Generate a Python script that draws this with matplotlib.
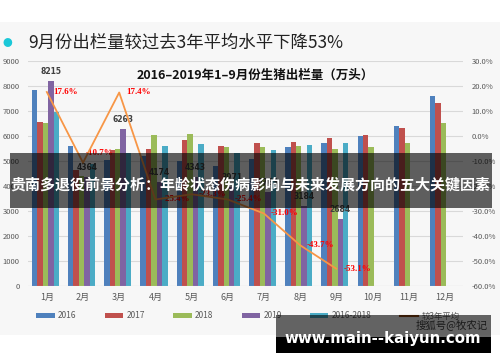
import matplotlib

matplotlib.use("Agg")
import matplotlib.pyplot as plt
import numpy as np
from matplotlib.lines import Line2D
from matplotlib.patches import Patch, Rectangle

plt.rcParams["font.family"] = ["Noto Sans CJK SC", "DejaVu Sans"]

months = ["1月", "2月", "3月", "4月", "5月", "6月", "7月", "8月", "9月", "10月", "11月", "12月"]
y2016 = [7840, 5610, 5040, 5210, 5000, 4800, 5080, 5560, 5720, 6000, 6410, 7610]
y2017 = [6560, 4650, 5440, 5480, 5840, 5600, 5720, 5760, 5920, 6040, 6320, 7320]
y2018 = [6520, 4400, 5480, 6040, 6080, 5570, 5560, 5600, 5480, 5560, 5720, 6520]
y2019 = [8215, 4364, 6263, 4174, 4343, 3971, 3763, 3184, 2684]
avg3 = [6960, 4887, 5335, 5595, 5662, 5323, 5453, 5655, 5723]
pct = [17.6, -10.7, 17.4, -25.4, -23.3, -25.4, -31.0, -43.7, -53.1]

series = ["2016", "2017", "2018", "2019", "2016-2018"]
colors = ["#4F81BD", "#C0504D", "#9BBB59", "#8064A2", "#4BACC6"]
line_color = "#F79646"

fig = plt.figure(figsize=(5, 3.62), dpi=100)
fig.patch.set_facecolor("white")
# slide background
fig.patches.append(Rectangle((0, 1 - 335 / 362), 1, (335 - 22) / 362, transform=fig.transFigure,
                             facecolor="#f7f7f7", edgecolor="none", zorder=-10))

ax = fig.add_axes([28 / 500, 1 - 286 / 362, 435 / 500, 225 / 362])
ax.set_facecolor("none")
x = np.arange(len(months))
w = 0.15
for k, (vals, c) in enumerate(zip([y2016, y2017, y2018, y2019, avg3], colors)):
    ax.bar(x[:len(vals)] + (k - 2) * w - 0.04, vals, width=w, color=c, zorder=2)

for i, v in enumerate(y2019):
    ax.text(x[i] + w - 0.04, v + 200, str(v), ha="center", va="bottom", fontsize=5.5,
            color="#404040", fontweight="bold", family="DejaVu Sans")

ax.set_ylim(0, 9000)
ax.set_xlim(-0.52, 11.5)
ax.set_yticks(range(0, 9001, 1000))
ax.set_xticks(x)
ax.set_xticklabels(months)
ax.tick_params(axis="y", labelsize=5.5, colors="#595959", length=0, pad=6)
ax.tick_params(axis="x", labelsize=6.5, colors="#595959", length=0, pad=5)
ax.grid(axis="y", color="#d9d9d9", lw=0.8, zorder=0)
for s in ax.spines.values():
    s.set_visible(False)
ax.axhline(0, color="#d9d9d9", lw=0.8)

ax2 = ax.twinx()
ax2.plot(x[:len(pct)], pct, color=line_color, lw=1.3, zorder=5)
ax2.set_ylim(-60, 30)
ax2.set_yticks(range(-60, 31, 10))
ax2.set_yticklabels([f"{t:.1f}%" for t in range(-60, 31, 10)])
ax2.tick_params(axis="y", labelsize=5.5, colors="#595959", length=0, pad=6)
for s in ax2.spines.values():
    s.set_visible(False)
for i, p in enumerate(pct):
    off = (2, 7) if i == 1 else (5, 0)
    ax2.annotate(f"{p:.1f}%", (x[i], p), xytext=off, textcoords="offset points",
                 ha="left", va="center", fontsize=6.5, color="#FF0000",
                 fontweight="bold", family="Liberation Serif")

fig.text(255 / 500, 1 - 75 / 362, "2016–2019年1–9月份生猪出栏量（万头）", ha="center",
         va="center", fontsize=9, fontweight="bold", color="#111111")
fig.text(28 / 500, 1 - 43 / 362, "9月份出栏量较过去3年平均水平下降53%", ha="left",
         va="center", fontsize=12.5, color="#222222", fontweight="light")
fig.text(7 / 500, 1 - 43 / 362, "●", ha="center", va="center", fontsize=7, color="#1BC8D8")

handles = [Patch(facecolor=c, edgecolor="none") for c in colors]
handles.append(Line2D([0], [0], color="#8B4513", lw=1.5))
fig.legend(handles, series + ["较3年平均"], loc="center", bbox_to_anchor=(248 / 500, 1 - 316 / 362),
           ncol=6, frameon=False, fontsize=6, labelcolor="#595959", handlelength=2.2,
           handleheight=0.6, columnspacing=3.4, handletextpad=0.4)

# overlay banner
fig.patches.append(Rectangle((10 / 500, 1 - 208 / 362), 482 / 500, 55 / 362, transform=fig.transFigure,
                             facecolor="black", alpha=0.62, edgecolor="none", zorder=20))
fig.text(250 / 500, 1 - 185 / 362, "贵南多退役前景分析：年龄状态伤病影响与未来发展方向的五大关键因素",
         ha="center", va="center", fontsize=10.8, fontweight="bold", color="white", zorder=21)

# watermark box
fig.patches.append(Rectangle((276 / 500, 1 - 337 / 362), 215 / 500, 22 / 362, transform=fig.transFigure,
                             facecolor="black", alpha=0.6, edgecolor="none", zorder=20))
fig.patches.append(Rectangle((276 / 500, 1 - 353 / 362), 215 / 500, 16 / 362, transform=fig.transFigure,
                             facecolor="black", edgecolor="none", zorder=20))
fig.text(488 / 500, 1 - 326 / 362, "搜狐号@牧农记", ha="right", va="center", fontsize=7.5,
         color="#1a1a1a", zorder=21)
fig.text(383 / 500, 1 - 338 / 362, "www.main--kaiyun.com", ha="center", va="center", fontsize=10.8,
         fontweight="bold", color="white", family="DejaVu Sans", zorder=21)

fig.savefig("out.png", dpi=100)
